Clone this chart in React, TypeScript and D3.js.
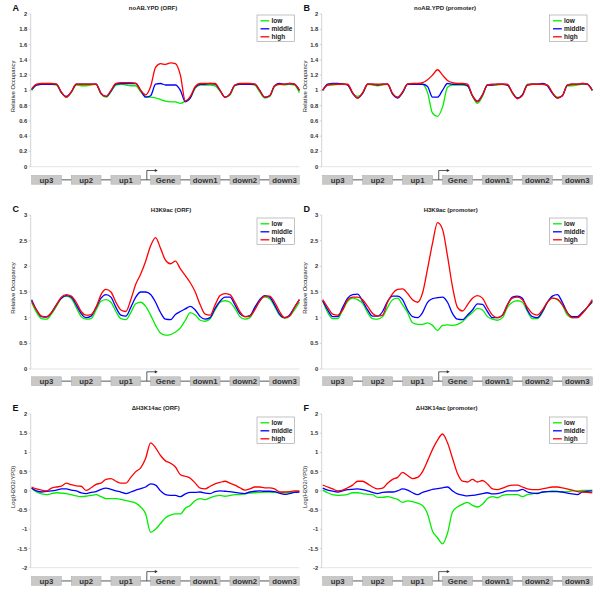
import React from 'react';
import * as d3 from 'd3';

const regions = ['up3', 'up2', 'up1', 'Gene', 'down1', 'down2', 'down3'];
const groups = ['low', 'middle', 'high'];
const groupColors = ['#00ee00', '#0000ff', '#ff0000'];

const occTicks = [0, 0.2, 0.4, 0.6, 0.8, 1, 1.2, 1.4, 1.6, 1.8, 2];
const h3k9Ticks = [0, 0.5, 1, 1.5, 2, 2.5, 3];
const logTicks = [-2, -1.5, -1, -0.5, 0, 0.5, 1, 1.5, 2];

// A: noAB.YPD (ORF)
const aLow = [1.0, 1.07, 1.08, 1.08, 1.08, 1.07, 0.97, 0.91, 0.97, 1.07, 1.06, 1.06, 1.07, 1.08, 0.95, 0.91, 0.98, 1.07, 1.08, 1.07, 1.06, 1.06,
  0.98, 0.92, 0.91, 0.9, 0.88, 0.86, 0.85, 0.85, 0.83, 0.86, 0.9, 1.03, 1.07, 1.07, 1.07, 1.06, 0.99, 0.91, 0.94, 1.06, 1.08, 1.08, 1.08, 1.07,
  0.98, 0.9, 0.92, 1.05, 1.08, 1.07, 1.08, 1.07, 0.97];
const aMid = [1.01, 1.07, 1.08, 1.08, 1.08, 1.08, 0.97, 0.92, 0.98, 1.08, 1.08, 1.08, 1.08, 1.08, 0.96, 0.92, 0.99, 1.08, 1.09, 1.09, 1.09, 1.09,
  1.0, 0.91, 0.93, 1.08, 1.09, 1.07, 1.07, 1.07, 1.0, 0.85, 0.9, 1.04, 1.08, 1.08, 1.09, 1.08, 1.0, 0.91, 0.95, 1.07, 1.08, 1.08, 1.08, 1.08,
  1.0, 0.91, 0.93, 1.06, 1.09, 1.08, 1.09, 1.08, 1.0];
const aHigh = [1.02, 1.08, 1.09, 1.09, 1.09, 1.08, 0.98, 0.91, 0.98, 1.08, 1.08, 1.08, 1.08, 1.08, 0.96, 0.92, 1.0, 1.09, 1.1, 1.1, 1.1, 1.09,
  1.0, 0.94, 1.05, 1.3, 1.35, 1.34, 1.36, 1.35, 1.2, 0.86, 0.92, 1.05, 1.09, 1.09, 1.09, 1.09, 1.0, 0.91, 0.95, 1.07, 1.09, 1.09, 1.09, 1.08,
  1.0, 0.91, 0.93, 1.06, 1.08, 1.08, 1.09, 1.08, 1.0];

// B: noAB.YPD (promoter)
const bLow = [1.0, 1.07, 1.07, 1.08, 1.09, 1.07, 0.96, 0.92, 0.96, 1.08, 1.07, 1.06, 1.07, 1.08, 0.95, 0.91, 0.97, 1.08, 1.08, 1.08, 1.08, 0.97,
  0.7, 0.66, 0.78, 1.04, 1.07, 1.07, 1.07, 1.06, 0.92, 0.83, 0.92, 1.07, 1.07, 1.07, 1.08, 1.07, 0.96, 0.9, 0.94, 1.08, 1.08, 1.08, 1.08, 1.07,
  0.97, 0.91, 0.93, 1.06, 1.06, 1.07, 1.08, 1.08, 1.0];
const bMid = [1.0, 1.08, 1.09, 1.09, 1.08, 1.07, 0.96, 0.9, 0.96, 1.08, 1.08, 1.07, 1.08, 1.08, 0.95, 0.9, 0.97, 1.08, 1.08, 1.08, 1.08, 1.05,
  0.91, 0.91, 1.0, 1.09, 1.08, 1.08, 1.08, 1.06, 0.93, 0.86, 0.94, 1.07, 1.07, 1.08, 1.08, 1.07, 0.97, 0.9, 0.94, 1.07, 1.08, 1.08, 1.09, 1.06,
  0.96, 0.9, 0.93, 1.07, 1.08, 1.08, 1.09, 1.08, 1.0];
const bHigh = [1.0, 1.07, 1.08, 1.08, 1.08, 1.08, 0.97, 0.9, 0.97, 1.08, 1.08, 1.08, 1.08, 1.08, 0.96, 0.91, 0.98, 1.08, 1.09, 1.09, 1.1, 1.14,
  1.2, 1.27, 1.2, 1.13, 1.1, 1.09, 1.09, 1.08, 0.93, 0.85, 0.94, 1.07, 1.08, 1.08, 1.08, 1.08, 0.97, 0.89, 0.93, 1.07, 1.08, 1.08, 1.08, 1.07,
  0.97, 0.9, 0.93, 1.07, 1.08, 1.08, 1.09, 1.08, 1.0];

// C: H3K9ac (ORF)
const cLow = [1.3, 1.1, 0.98, 0.97, 1.07, 1.22, 1.38, 1.42, 1.37, 1.2, 1.02, 0.97, 0.98, 1.15, 1.32, 1.35, 1.3, 1.12, 0.98, 0.96, 1.1, 1.27,
  1.3, 1.22, 1.05, 0.85, 0.7, 0.66, 0.67, 0.72, 0.8, 0.95, 1.1, 1.05, 0.95, 0.93, 0.98, 1.15, 1.3, 1.33, 1.3, 1.18, 1.02, 0.97, 1.0, 1.17,
  1.33, 1.4, 1.37, 1.22, 1.05, 0.99, 1.03, 1.15, 1.3];
const cMid = [1.35, 1.15, 1.02, 1.01, 1.1, 1.25, 1.38, 1.43, 1.4, 1.25, 1.08, 1.0, 1.03, 1.2, 1.38, 1.45, 1.4, 1.2, 1.05, 1.03, 1.2, 1.4,
  1.5, 1.5, 1.45, 1.3, 1.1, 0.97, 0.96, 1.06, 1.12, 1.17, 1.22, 1.15, 1.02, 0.97, 1.0, 1.18, 1.32, 1.4, 1.4, 1.25, 1.08, 1.02, 1.04, 1.2,
  1.35, 1.43, 1.4, 1.25, 1.07, 1.0, 1.05, 1.2, 1.35];
const cHigh = [1.32, 1.15, 1.03, 1.02, 1.1, 1.25, 1.4, 1.45, 1.42, 1.3, 1.12, 1.05, 1.06, 1.2, 1.45, 1.55, 1.5, 1.3, 1.15, 1.12, 1.35, 1.65,
  1.85, 2.1, 2.4, 2.56, 2.35, 2.12, 2.05, 2.1, 1.95, 1.82, 1.68, 1.5, 1.25, 1.07, 1.05, 1.25, 1.43, 1.47, 1.45, 1.3, 1.12, 1.02, 1.03, 1.15,
  1.32, 1.42, 1.42, 1.3, 1.12, 1.0, 1.03, 1.2, 1.35];

// D: H3K9ac (promoter)
const dLow = [1.33, 1.1, 0.98, 0.98, 1.15, 1.32, 1.38, 1.35, 1.28, 1.1, 0.98, 0.97, 1.02, 1.2, 1.35, 1.38, 1.25, 1.1, 0.9, 0.87, 0.87, 0.9,
  0.85, 0.75, 0.85, 0.86, 0.85, 0.87, 0.92, 1.02, 1.1, 1.18, 1.15, 1.02, 0.97, 0.95, 1.0, 1.2, 1.3, 1.33, 1.3, 1.12, 0.98, 0.98, 1.1, 1.3,
  1.38, 1.35, 1.25, 1.05, 1.0, 1.0, 1.1, 1.2, 1.3];
const dMid = [1.33, 1.15, 1.02, 1.02, 1.2, 1.38, 1.45, 1.46, 1.32, 1.15, 1.03, 1.03, 1.12, 1.32, 1.42, 1.42, 1.35, 1.15, 1.02, 1.0, 1.1, 1.3,
  1.37, 1.39, 1.4, 1.3, 1.08, 0.97, 0.96, 1.05, 1.15, 1.27, 1.26, 1.12, 1.0, 1.0, 1.05, 1.25, 1.4, 1.42, 1.38, 1.15, 1.02, 1.0, 1.12, 1.3,
  1.42, 1.45, 1.3, 1.1, 1.02, 1.02, 1.1, 1.2, 1.32];
const dHigh = [1.35, 1.2, 1.07, 1.05, 1.15, 1.35, 1.4, 1.4, 1.35, 1.22, 1.08, 1.03, 1.05, 1.3, 1.47, 1.55, 1.56, 1.47, 1.35, 1.3, 1.48, 1.95,
  2.45, 2.85, 2.72, 2.2, 1.6, 1.2, 1.13, 1.25, 1.38, 1.43, 1.38, 1.2, 1.05, 1.0, 1.05, 1.25, 1.38, 1.4, 1.35, 1.2, 1.08, 1.05, 1.15, 1.3,
  1.38, 1.36, 1.25, 1.1, 1.0, 1.0, 1.08, 1.2, 1.35];

// E: ΔH3K14ac (ORF)
const eLow = [0.07, -0.03, -0.08, -0.1, -0.07, -0.05, -0.06, -0.07, -0.1, -0.13, -0.15, -0.14, -0.12, -0.1, -0.15, -0.2, -0.2, -0.2, -0.22,
  -0.25, -0.28, -0.32, -0.42, -0.6, -1.08, -1.0, -0.85, -0.7, -0.63, -0.6, -0.6, -0.45, -0.38, -0.25, -0.2, -0.23, -0.18, -0.14, -0.12, -0.14,
  -0.12, -0.1, -0.1, -0.08, -0.06, -0.05, -0.04, -0.03, -0.03, -0.04, -0.05, -0.05, -0.04, -0.03, -0.02];
const eMid = [0.07, 0.0, -0.03, -0.01, 0.0, 0.02, 0.05, 0.05, 0.02, 0.0, -0.05, -0.07, -0.04, -0.02, 0.04, 0.07, 0.04, 0.0, -0.03, -0.07, -0.03,
  0.02, 0.06, 0.1, 0.18, 0.15, 0.0, -0.1, -0.12, -0.12, -0.15, -0.08, -0.04, -0.04, -0.03, -0.06, -0.07, -0.02, 0.0, -0.01, -0.02, -0.04, -0.06,
  -0.07, -0.03, -0.01, 0.0, -0.01, -0.01, -0.02, -0.06, -0.09, -0.07, -0.04, -0.03];
const eHigh = [0.1, 0.05, 0.02, 0.0, 0.07, 0.1, 0.12, 0.2, 0.16, 0.13, 0.12, 0.01, 0.08, 0.17, 0.2, 0.3, 0.32, 0.25, 0.2, 0.2, 0.35, 0.5, 0.6,
  0.85, 1.25, 1.12, 0.92, 0.78, 0.72, 0.62, 0.42, 0.38, 0.33, 0.2, 0.07, 0.05, 0.12, 0.18, 0.22, 0.25, 0.2, 0.15, 0.08, 0.02, 0.05, 0.1, 0.1,
  0.08, 0.08, 0.05, -0.03, -0.03, -0.02, 0.0, 0.0];

// F: ΔH3K14ac (promoter)
const fLow = [0.02, -0.05, -0.1, -0.12, -0.11, -0.09, -0.05, -0.05, -0.07, -0.09, -0.1, -0.17, -0.17, -0.15, -0.18, -0.22, -0.3, -0.26, -0.28,
  -0.32, -0.38, -0.6, -1.05, -1.22, -1.38, -1.1, -0.55, -0.42, -0.35, -0.3, -0.38, -0.42, -0.35, -0.2, -0.15, -0.18, -0.12, -0.1, -0.1, -0.1,
  -0.15, -0.1, -0.08, -0.05, -0.04, -0.02, 0.0, -0.01, -0.03, -0.02, 0.0, 0.0, 0.01, 0.01, 0.02];
const fMid = [0.07, 0.02, -0.01, -0.03, 0.0, 0.03, 0.04, 0.05, 0.03, 0.0, -0.04, -0.07, -0.04, -0.03, -0.03, 0.0, 0.05, 0.02, -0.05, -0.1, -0.04,
  0.0, 0.04, 0.06, 0.08, 0.1, 0.0, -0.08, -0.11, -0.13, -0.12, -0.1, -0.07, -0.05, -0.08, -0.07, -0.04, 0.0, 0.0, 0.0, 0.04, -0.03, -0.06,
  -0.07, -0.03, -0.02, -0.02, -0.02, -0.03, -0.06, -0.08, -0.1, -0.03, -0.01, 0.0];
const fHigh = [0.15, 0.1, 0.05, 0.0, 0.02, 0.08, 0.15, 0.25, 0.25, 0.18, 0.1, 0.05, 0.07, 0.2, 0.3, 0.35, 0.48, 0.4, 0.32, 0.35, 0.5, 0.78,
  1.08, 1.32, 1.48, 1.25, 0.85, 0.45, 0.25, 0.23, 0.3, 0.23, 0.27, 0.18, 0.05, 0.03, 0.07, 0.12, 0.15, 0.15, 0.1, 0.05, 0.03, 0.03, 0.05, 0.08,
  0.1, 0.1, 0.08, 0.05, 0.02, -0.02, -0.03, -0.04, -0.05];

const occLabel = 'Relative Occupancy';
const logLabel = 'Log(H2O2/YPD)';

const LEFT = { x0: 31.6, x1: 299.4, axisX: 30.7, labelX: 15, letterX: 12.5, legendX: 257 };
const RIGHT = { x0: 322.7, x1: 592.3, axisX: 321.7, labelX: 306.7, letterX: 303.5, legendX: 549.5 };

const panels = [
  { col: LEFT, letter: 'A', title: 'noAB.YPD (ORF)', titleX: 153, titleY: 9.5, letterY: 10.5, yLabel: occLabel, ticks: occTicks, domain: [0, 2], top: 14, bottom: 166.7, legendY: 15, boxY: 175.5, series: [aLow, aMid, aHigh] },
  { col: RIGHT, letter: 'B', title: 'noAB.YPD (promoter)', titleX: 445, titleY: 9.5, letterY: 10.5, yLabel: occLabel, ticks: occTicks, domain: [0, 2], top: 14, bottom: 166.7, legendY: 15, boxY: 175.5, series: [bLow, bMid, bHigh] },
  { col: LEFT, letter: 'C', title: 'H3K9ac (ORF)', titleX: 171, titleY: 212, letterY: 212, yLabel: occLabel, ticks: h3k9Ticks, domain: [0, 3], top: 215, bottom: 369, legendY: 218, boxY: 376.8, series: [cLow, cMid, cHigh] },
  { col: RIGHT, letter: 'D', title: 'H3K9ac (promoter)', titleX: 450.7, titleY: 212, letterY: 212, yLabel: occLabel, ticks: h3k9Ticks, domain: [0, 3], top: 215, bottom: 369, legendY: 218, boxY: 376.8, series: [dLow, dMid, dHigh] },
  { col: LEFT, letter: 'E', title: '\u0394H3K14ac (ORF)', titleX: 155.7, titleY: 409.5, letterY: 410.5, yLabel: logLabel, ticks: logTicks, domain: [-2, 2], top: 414, bottom: 567.7, legendY: 417, boxY: 576.6, series: [eLow, eMid, eHigh] },
  { col: RIGHT, letter: 'F', title: '\u0394H3K14ac (promoter)', titleX: 446.7, titleY: 409.5, letterY: 410.5, yLabel: logLabel, ticks: logTicks, domain: [-2, 2], top: 414, bottom: 567.7, legendY: 417, boxY: 576.6, series: [fLow, fMid, fHigh] },
];

const FONT = '"Liberation Sans", Arial, sans-serif';

function Panel({ p }: { p: any }) {
  const { col } = p;
  const n = p.series[0].length;
  const x = d3.scaleLinear().domain([0, n - 1]).range([col.x0, col.x1]);
  const band = d3.scaleBand().domain(regions).range([col.x0, col.x1]).paddingInner(0.25).paddingOuter(0);
  const y = d3.scaleLinear().domain(p.domain).range([p.bottom, p.top]);
  const line = d3.line<number>().x((_, i) => x(i)).y((d) => y(d)).curve(d3.curveMonotoneX);

  const boxH = 8.7;
  const midY = p.boxY + boxH / 2;
  const geneX = band('Gene') as number;
  const bw = band.bandwidth();
  const arrowX = geneX - 3.8;
  const arrowTop = p.boxY - 5;

  return (
    <g fontFamily={FONT}>
      <text x={col.letterX} y={p.letterY} fontSize={9} fontWeight="bold" fill="#111">{p.letter}</text>
      <text x={p.titleX} y={p.titleY} fontSize={6} fontWeight="bold" textAnchor="middle" fill="#222">{p.title}</text>

      {/* axes */}
      <line x1={col.axisX} x2={col.axisX} y1={p.top} y2={p.bottom} stroke="#c8c8c8" strokeWidth={0.8} />
      <line x1={col.axisX} x2={col.x1} y1={p.bottom} y2={p.bottom} stroke="#dcdcdc" strokeWidth={0.8} />
      {p.ticks.map((t: number) => (
        <g key={t}>
          <line x1={col.axisX - 2} x2={col.axisX} y1={y(t)} y2={y(t)} stroke="#bbb" strokeWidth={0.6} />
          <text x={col.axisX - 3.5} y={y(t)} dy="0.35em" fontSize={5.8} fontWeight="bold" textAnchor="end" fill="#333">{t}</text>
        </g>
      ))}
      <text transform={`translate(${col.labelX},${(p.top + p.bottom) / 2 - 4}) rotate(-90)`} fontSize={5.8} textAnchor="middle" fill="#222">{p.yLabel}</text>

      {/* curves */}
      {p.series.map((s: number[], i: number) => (
        <path key={groups[i]} d={line(s) as string} fill="none" stroke={groupColors[i]} strokeWidth={1.3} strokeLinejoin="round" />
      ))}

      {/* legend */}
      <rect x={col.legendX} y={p.legendY} width={37.5} height={26.5} fill="#fff" stroke="#999" strokeWidth={0.6} />
      {groups.map((g, i) => (
        <g key={g}>
          <line x1={col.legendX + 3.5} x2={col.legendX + 12.3} y1={p.legendY + 5.8 + i * 8} y2={p.legendY + 5.8 + i * 8} stroke={groupColors[i]} strokeWidth={1.3} />
          <text x={col.legendX + 14.5} y={p.legendY + 5.8 + i * 8} dy="0.35em" fontSize={6.5} fontWeight="bold" fill="#222">{g}</text>
        </g>
      ))}

      {/* gene model */}
      <line x1={col.x0 + bw} x2={band('down3') as number} y1={midY} y2={midY} stroke="#444" strokeWidth={0.9} />
      <path d={`M${arrowX},${midY} V${arrowTop} H${arrowX + 8.5}`} fill="none" stroke="#333" strokeWidth={0.8} />
      <path d={`M${arrowX + 11},${arrowTop} l-3,-1.6 v3.2 z`} fill="#333" />
      {regions.map((r) => (
        <g key={r}>
          <rect x={band(r)} y={p.boxY} width={bw} height={boxH} fill="#c8c8c8" stroke="#a8a8a8" strokeWidth={0.5} />
          <text x={(band(r) as number) + bw / 2} y={midY} dy="0.36em" fontSize={7.8} fontWeight="bold" textAnchor="middle" fill="#333">{r}</text>
        </g>
      ))}
    </g>
  );
}

export default function App() {
  return (
    <svg width={600} height={593} style={{ position: 'absolute', left: 0, top: 0, background: '#fff' }}>
      <rect width={600} height={593} fill="#fff" />
      {panels.map((p) => (
        <Panel key={p.letter} p={p} />
      ))}
    </svg>
  );
}
